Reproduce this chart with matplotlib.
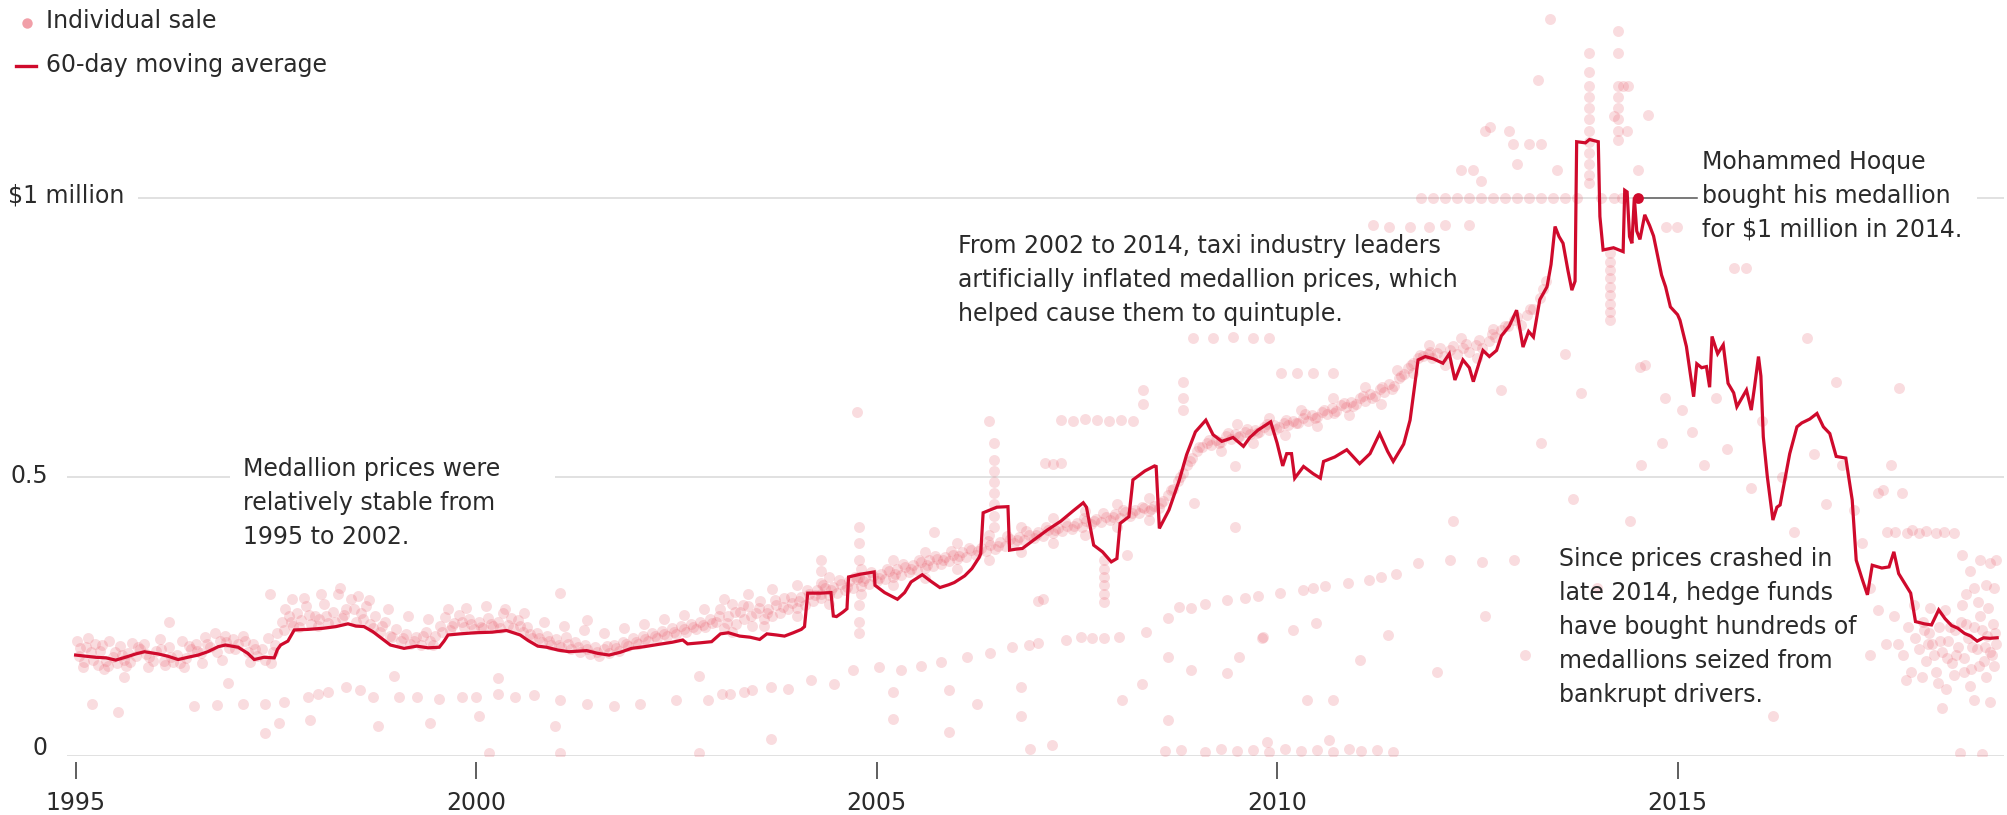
import matplotlib
matplotlib.use("Agg")
import matplotlib.pyplot as plt
from matplotlib.lines import Line2D

# ------------------- DATA ($ millions) -------------------
# 60-day moving average of medallion sale prices
avg_years = [
    1995.00, 1995.12, 1995.25, 1995.38, 1995.50, 1995.62, 1995.75, 1995.86, 1996.03, 1996.15,
    1996.28, 1996.40, 1996.53, 1996.65, 1996.78, 1996.87, 1997.03, 1997.15, 1997.23, 1997.35,
    1997.48, 1997.52, 1997.56, 1997.65, 1997.73, 1997.90, 1998.09, 1998.25, 1998.40, 1998.50,
    1998.60, 1998.71, 1998.82, 1998.93, 1999.10, 1999.26, 1999.40, 1999.54, 1999.60, 1999.65,
    1999.80, 1999.99, 2000.20, 2000.38, 2000.55, 2000.65, 2000.77, 2000.88, 2001.02, 2001.16,
    2001.38, 2001.52, 2001.66, 2001.80, 2001.94, 2002.10, 2002.27, 2002.45, 2002.58, 2002.64,
    2002.80, 2002.94, 2003.05, 2003.15, 2003.29, 2003.42, 2003.54, 2003.63, 2003.75, 2003.85,
    2003.96, 2004.06, 2004.10, 2004.14, 2004.30, 2004.43, 2004.46, 2004.50, 2004.58, 2004.63,
    2004.65, 2004.80, 2004.97, 2004.98, 2005.10, 2005.26, 2005.35, 2005.43, 2005.57, 2005.68,
    2005.79, 2005.90, 2005.97, 2006.10, 2006.19, 2006.28, 2006.30, 2006.33, 2006.50, 2006.64,
    2006.66, 2006.75, 2006.82, 2006.95, 2007.13, 2007.30, 2007.45, 2007.58, 2007.62, 2007.71,
    2007.82, 2007.93, 2008.00, 2008.04, 2008.15, 2008.20, 2008.35, 2008.47, 2008.49, 2008.53,
    2008.65, 2008.78, 2008.87, 2008.98, 2009.11, 2009.20, 2009.31, 2009.45, 2009.58, 2009.66,
    2009.76, 2009.92, 2010.00, 2010.07, 2010.12, 2010.18, 2010.22, 2010.33, 2010.45, 2010.54,
    2010.58, 2010.72, 2010.87, 2011.03, 2011.16, 2011.28, 2011.38, 2011.45, 2011.58, 2011.66,
    2011.76, 2011.85, 2011.95, 2012.07, 2012.15, 2012.22, 2012.32, 2012.40, 2012.45, 2012.57,
    2012.65, 2012.74, 2012.80, 2012.90, 2012.99, 2013.07, 2013.14, 2013.20, 2013.28, 2013.37,
    2013.42, 2013.47, 2013.52, 2013.57, 2013.63, 2013.68, 2013.72, 2013.74, 2013.85, 2013.90,
    2014.01, 2014.03, 2014.07, 2014.20, 2014.32, 2014.34, 2014.37, 2014.40, 2014.43, 2014.46,
    2014.49, 2014.53, 2014.59, 2014.65, 2014.70, 2014.80, 2014.85, 2014.91, 2015.00, 2015.03,
    2015.11, 2015.20, 2015.24, 2015.30, 2015.36, 2015.40, 2015.43, 2015.50, 2015.57, 2015.63,
    2015.70, 2015.74, 2015.80, 2015.86, 2015.92, 2015.96, 2016.01, 2016.04, 2016.07, 2016.12,
    2016.19, 2016.24, 2016.28, 2016.40, 2016.49, 2016.55, 2016.65, 2016.74, 2016.82, 2016.90,
    2016.98, 2017.10, 2017.18, 2017.23, 2017.30, 2017.37, 2017.43, 2017.55, 2017.64, 2017.70,
    2017.76, 2017.85, 2017.91, 2017.97, 2018.08, 2018.17, 2018.26, 2018.34, 2018.42, 2018.50,
    2018.58, 2018.66, 2018.74, 2018.82, 2018.90, 2018.99,
]
avg_values = [
    0.180, 0.178, 0.176, 0.175, 0.171, 0.176, 0.182, 0.186, 0.182, 0.178,
    0.172, 0.176, 0.180, 0.186, 0.195, 0.198, 0.194, 0.183, 0.172, 0.176,
    0.175, 0.190, 0.198, 0.205, 0.225, 0.226, 0.228, 0.231, 0.236, 0.232,
    0.231, 0.222, 0.210, 0.198, 0.192, 0.196, 0.193, 0.194, 0.205, 0.216,
    0.218, 0.220, 0.221, 0.224, 0.216, 0.206, 0.196, 0.194, 0.189, 0.186,
    0.188, 0.183, 0.180, 0.185, 0.192, 0.195, 0.199, 0.203, 0.207, 0.200,
    0.202, 0.204, 0.218, 0.220, 0.214, 0.212, 0.208, 0.218, 0.216, 0.214,
    0.220, 0.226, 0.231, 0.291, 0.291, 0.292, 0.250, 0.249, 0.257, 0.263,
    0.320, 0.325, 0.329, 0.305, 0.292, 0.280, 0.292, 0.311, 0.324, 0.312,
    0.301, 0.306, 0.310, 0.322, 0.335, 0.355, 0.362, 0.435, 0.445, 0.446,
    0.368, 0.370, 0.371, 0.385, 0.404, 0.420, 0.438, 0.453, 0.445, 0.377,
    0.365, 0.347, 0.353, 0.416, 0.428, 0.494, 0.510, 0.519, 0.518, 0.407,
    0.440, 0.494, 0.539, 0.580, 0.601, 0.575, 0.563, 0.570, 0.554, 0.570,
    0.583, 0.598, 0.560, 0.519, 0.541, 0.541, 0.497, 0.518, 0.505, 0.497,
    0.527, 0.535, 0.548, 0.523, 0.541, 0.577, 0.545, 0.527, 0.558, 0.601,
    0.709, 0.715, 0.711, 0.703, 0.720, 0.673, 0.709, 0.695, 0.670, 0.726,
    0.715, 0.726, 0.752, 0.770, 0.798, 0.732, 0.760, 0.750, 0.817, 0.840,
    0.880, 0.948, 0.930, 0.918, 0.870, 0.834, 0.850, 1.100, 1.098, 1.104,
    1.100, 0.966, 0.906, 0.910, 0.903, 1.013, 1.010, 0.930, 0.918, 1.000,
    0.940, 0.925, 0.969, 0.950, 0.931, 0.861, 0.840, 0.804, 0.790, 0.780,
    0.733, 0.643, 0.702, 0.695, 0.697, 0.660, 0.751, 0.720, 0.736, 0.667,
    0.650, 0.625, 0.640, 0.655, 0.619, 0.660, 0.715, 0.680, 0.571, 0.500,
    0.422, 0.445, 0.449, 0.541, 0.589, 0.596, 0.603, 0.613, 0.589, 0.577,
    0.536, 0.533, 0.458, 0.350, 0.318, 0.288, 0.341, 0.336, 0.338, 0.365,
    0.326, 0.305, 0.291, 0.240, 0.236, 0.234, 0.261, 0.245, 0.233, 0.228,
    0.219, 0.214, 0.205, 0.211, 0.210, 0.211,
]

# individual sales (year, price), grouped by where they sit on the chart
sales_early = [
    (1995.02, 0.205), (1995.06, 0.192), (1995.10, 0.168), (1995.15, 0.210), (1995.19, 0.185),
    (1995.24, 0.200), (1995.28, 0.163), (1995.33, 0.198), (1995.38, 0.170), (1995.42, 0.205),
    (1995.47, 0.176), (1995.52, 0.165), (1995.56, 0.196), (1995.61, 0.172), (1995.66, 0.184),
    (1995.71, 0.202), (1995.76, 0.178), (1995.81, 0.190), (1995.86, 0.199), (1995.92, 0.176),
    (1996.00, 0.188), (1996.05, 0.208), (1996.10, 0.170), (1996.16, 0.195), (1996.22, 0.168),
    (1996.27, 0.180), (1996.33, 0.205), (1996.38, 0.175), (1996.44, 0.190), (1996.50, 0.200),
    (1996.56, 0.183), (1996.62, 0.212), (1996.68, 0.195), (1996.74, 0.220), (1996.80, 0.205),
    (1996.86, 0.214), (1996.92, 0.192), (1996.97, 0.208), (1997.03, 0.199), (1997.09, 0.215),
    (1997.15, 0.186), (1997.21, 0.200), (1997.27, 0.178), (1997.33, 0.190), (1997.40, 0.210),
    (1997.46, 0.185), (1997.52, 0.220), (1997.58, 0.240), (1997.62, 0.262), (1997.66, 0.250),
    (1997.71, 0.232), (1997.76, 0.255), (1997.82, 0.242), (1997.88, 0.268), (1997.94, 0.236),
    (1997.99, 0.250), (1998.04, 0.245), (1998.10, 0.272), (1998.15, 0.238), (1998.21, 0.258),
    (1998.27, 0.290), (1998.32, 0.246), (1998.38, 0.262), (1998.44, 0.280), (1998.50, 0.240),
    (1998.56, 0.255), (1998.62, 0.268), (1998.68, 0.235), (1998.74, 0.250), (1998.80, 0.222),
    (1998.86, 0.240), (1998.92, 0.215), (1999.00, 0.226), (1999.06, 0.205), (1999.12, 0.218),
    (1999.18, 0.200), (1999.25, 0.212), (1999.31, 0.198), (1999.37, 0.222), (1999.43, 0.206),
    (1999.49, 0.215), (1999.55, 0.232), (1999.61, 0.248), (1999.67, 0.225), (1999.73, 0.238),
    (1999.79, 0.252), (1999.85, 0.230), (1999.91, 0.244), (1999.97, 0.226), (2000.03, 0.240),
    (2000.09, 0.228), (2000.15, 0.246), (2000.21, 0.232), (2000.27, 0.240), (2000.33, 0.256),
    (2000.40, 0.234), (2000.46, 0.228), (2000.52, 0.242), (2000.58, 0.222), (2000.64, 0.230),
    (2000.70, 0.210), (2000.76, 0.220), (2000.82, 0.204), (2000.88, 0.214), (2000.94, 0.198),
    (2001.00, 0.208), (2001.06, 0.195), (2001.12, 0.212), (2001.18, 0.190), (2001.24, 0.204),
    (2001.30, 0.186), (2001.36, 0.198), (2001.42, 0.182), (2001.48, 0.194), (2001.54, 0.178),
    (2001.60, 0.190), (2001.66, 0.184), (2001.72, 0.198), (2001.78, 0.188), (2001.84, 0.204),
    (2001.90, 0.196), (2001.96, 0.210), (2002.02, 0.200), (2002.08, 0.214), (2002.14, 0.206),
    (2002.20, 0.220), (2002.26, 0.210), (2002.32, 0.224), (2002.38, 0.215), (2002.44, 0.228),
    (2002.50, 0.218), (2002.56, 0.232), (2002.62, 0.222), (2002.68, 0.236), (2002.74, 0.226),
    (2002.80, 0.240), (2002.86, 0.230), (2002.92, 0.244),
]

sales_early_extra = [
    (1995.04, 0.178), (1995.13, 0.195), (1995.22, 0.172), (1995.31, 0.188), (1995.40, 0.160),
    (1995.49, 0.186), (1995.58, 0.180), (1995.68, 0.168), (1995.78, 0.195), (1995.88, 0.182),
    (1995.97, 0.170), (1996.07, 0.190), (1996.19, 0.176), (1996.30, 0.165), (1996.41, 0.196),
    (1996.52, 0.188), (1996.64, 0.200), (1996.76, 0.186), (1996.88, 0.204), (1996.99, 0.190),
    (1997.12, 0.205), (1997.24, 0.190), (1997.37, 0.172), (1997.49, 0.198), (1997.60, 0.225),
    (1997.69, 0.240), (1997.79, 0.230), (1997.91, 0.252), (1998.02, 0.232), (1998.13, 0.250),
    (1998.24, 0.240), (1998.35, 0.252), (1998.47, 0.262), (1998.59, 0.244), (1998.71, 0.228),
    (1998.83, 0.232), (1998.95, 0.212), (1999.09, 0.210), (1999.22, 0.205), (1999.34, 0.214),
    (1999.46, 0.198), (1999.58, 0.222), (1999.70, 0.232), (1999.82, 0.240), (1999.94, 0.236),
    (2000.06, 0.230), (2000.18, 0.236), (2000.30, 0.228), (2000.43, 0.246), (2000.55, 0.232),
    (2000.67, 0.218), (2000.79, 0.210), (2000.91, 0.206), (2001.03, 0.198), (2001.15, 0.200),
    (2001.27, 0.194), (2001.39, 0.190), (2001.51, 0.186), (2001.63, 0.196), (2001.75, 0.192),
    (2001.87, 0.200), (2001.99, 0.204), (2002.11, 0.208), (2002.23, 0.214), (2002.35, 0.218),
    (2002.47, 0.222), (2002.59, 0.226), (2002.71, 0.230), (2002.83, 0.234), (2002.95, 0.238),
]

sales_rising = [
    (2003.00, 0.240), (2003.05, 0.262), (2003.10, 0.228), (2003.15, 0.250), (2003.20, 0.272),
    (2003.25, 0.236), (2003.30, 0.258), (2003.35, 0.245), (2003.40, 0.268), (2003.45, 0.232),
    (2003.50, 0.255), (2003.55, 0.276), (2003.60, 0.244), (2003.65, 0.262), (2003.70, 0.250),
    (2003.75, 0.270), (2003.80, 0.256), (2003.85, 0.282), (2003.90, 0.262), (2003.95, 0.274),
    (2004.00, 0.265), (2004.05, 0.284), (2004.10, 0.270), (2004.15, 0.290), (2004.20, 0.276),
    (2004.25, 0.296), (2004.30, 0.282), (2004.35, 0.300), (2004.40, 0.288), (2004.45, 0.302),
    (2004.50, 0.292), (2004.55, 0.308), (2004.60, 0.296), (2004.65, 0.312), (2004.70, 0.300),
    (2004.75, 0.316), (2004.80, 0.304), (2004.85, 0.318), (2004.90, 0.308), (2004.95, 0.322),
    (2005.00, 0.312), (2005.05, 0.326), (2005.10, 0.316), (2005.15, 0.330), (2005.20, 0.320),
    (2005.25, 0.334), (2005.30, 0.324), (2005.35, 0.338), (2005.40, 0.328), (2005.45, 0.342),
    (2005.50, 0.332), (2005.55, 0.346), (2005.60, 0.336), (2005.65, 0.350), (2005.70, 0.340),
    (2005.75, 0.352), (2005.80, 0.344), (2005.85, 0.356), (2005.90, 0.348), (2005.95, 0.360),
    (2006.00, 0.352), (2006.06, 0.364), (2006.12, 0.356), (2006.18, 0.368), (2006.24, 0.360),
    (2006.30, 0.372), (2006.36, 0.366), (2006.42, 0.378), (2006.48, 0.370), (2006.54, 0.382),
    (2006.60, 0.376), (2006.66, 0.388), (2006.72, 0.380), (2006.78, 0.392), (2006.84, 0.386),
    (2006.90, 0.396), (2006.96, 0.390), (2007.02, 0.400), (2007.08, 0.394), (2007.14, 0.404),
    (2007.20, 0.398), (2007.26, 0.408), (2007.32, 0.402), (2007.38, 0.412), (2007.44, 0.406),
    (2007.50, 0.416), (2007.56, 0.410), (2007.62, 0.420), (2007.68, 0.414), (2007.74, 0.424),
    (2007.80, 0.418), (2007.86, 0.428), (2007.92, 0.422), (2007.98, 0.432), (2008.04, 0.426),
    (2008.10, 0.436), (2008.16, 0.430), (2008.22, 0.440), (2008.28, 0.434), (2008.34, 0.444),
    (2008.40, 0.438), (2008.46, 0.448), (2008.52, 0.444), (2008.58, 0.456), (2008.64, 0.466),
    (2008.70, 0.478), (2008.76, 0.492), (2008.82, 0.506), (2008.88, 0.520), (2008.94, 0.534),
    (2009.00, 0.546), (2009.06, 0.552), (2009.12, 0.560), (2009.18, 0.556), (2009.24, 0.566),
    (2009.30, 0.562), (2009.36, 0.572), (2009.42, 0.568), (2009.48, 0.576), (2009.54, 0.572),
    (2009.60, 0.580), (2009.66, 0.576), (2009.72, 0.584), (2009.78, 0.580), (2009.84, 0.588),
    (2009.90, 0.584), (2009.96, 0.592), (2010.02, 0.588), (2010.08, 0.596), (2010.14, 0.592),
    (2010.20, 0.600), (2010.26, 0.596), (2010.32, 0.604), (2010.38, 0.600), (2010.44, 0.610),
    (2010.50, 0.606), (2010.56, 0.616), (2010.62, 0.612), (2010.68, 0.622), (2010.74, 0.618),
    (2010.80, 0.628), (2010.86, 0.624), (2010.92, 0.634), (2010.98, 0.630), (2011.04, 0.640),
    (2011.10, 0.636), (2011.16, 0.648), (2011.22, 0.644), (2011.28, 0.656), (2011.34, 0.652),
    (2011.40, 0.666), (2011.46, 0.662), (2011.52, 0.676), (2011.58, 0.684), (2011.64, 0.694),
    (2011.70, 0.704), (2011.76, 0.712), (2011.82, 0.716), (2011.88, 0.720), (2011.94, 0.712),
    (2012.00, 0.722), (2012.08, 0.716), (2012.16, 0.726), (2012.24, 0.720), (2012.32, 0.730),
    (2012.40, 0.724), (2012.48, 0.736), (2012.56, 0.730), (2012.64, 0.742), (2012.72, 0.750),
    (2012.80, 0.762), (2012.88, 0.770), (2012.96, 0.780), (2013.04, 0.772), (2013.12, 0.790),
    (2013.20, 0.800), (2013.28, 0.820), (2013.36, 0.850),
]

sales_rising_extra = [
    (2003.03, 0.250), (2003.13, 0.238), (2003.23, 0.258), (2003.33, 0.270), (2003.43, 0.250),
    (2003.53, 0.264), (2003.63, 0.256), (2003.73, 0.278), (2003.83, 0.266), (2003.93, 0.284),
    (2004.03, 0.276), (2004.13, 0.296), (2004.23, 0.288), (2004.33, 0.306), (2004.43, 0.296),
    (2004.53, 0.314), (2004.63, 0.302), (2004.73, 0.320), (2004.83, 0.312), (2004.93, 0.328),
    (2005.03, 0.318), (2005.13, 0.334), (2005.23, 0.326), (2005.33, 0.344), (2005.43, 0.334),
    (2005.53, 0.350), (2005.63, 0.342), (2005.73, 0.358), (2005.83, 0.350), (2005.93, 0.366),
    (2006.03, 0.358), (2006.15, 0.372), (2006.27, 0.366), (2006.39, 0.384), (2006.51, 0.376),
    (2006.63, 0.394), (2006.75, 0.386), (2006.87, 0.402), (2006.99, 0.396), (2007.11, 0.410),
    (2007.23, 0.404), (2007.35, 0.418), (2007.47, 0.412), (2007.59, 0.426), (2007.71, 0.420),
    (2007.83, 0.434), (2007.95, 0.428), (2008.07, 0.440), (2008.19, 0.434), (2008.31, 0.446),
    (2008.43, 0.442), (2008.55, 0.452), (2008.67, 0.476), (2008.79, 0.500), (2008.91, 0.528),
    (2009.03, 0.552), (2009.15, 0.566), (2009.27, 0.560), (2009.39, 0.578), (2009.51, 0.570),
    (2009.63, 0.586), (2009.75, 0.578), (2009.87, 0.594), (2009.99, 0.586), (2010.11, 0.602),
    (2010.23, 0.596), (2010.35, 0.612), (2010.47, 0.604), (2010.59, 0.620), (2010.71, 0.614),
    (2010.83, 0.632), (2010.95, 0.626), (2011.07, 0.644), (2011.19, 0.640), (2011.31, 0.660),
    (2011.43, 0.656), (2011.55, 0.680), (2011.67, 0.700), (2011.79, 0.718), (2011.91, 0.724),
    (2012.04, 0.730), (2012.20, 0.734), (2012.36, 0.738), (2012.52, 0.744), (2012.68, 0.756),
    (2012.84, 0.770), (2013.00, 0.786), (2013.16, 0.800), (2013.32, 0.836),
]

sales_band_edges = [
    (1995.09, 0.158), (1995.35, 0.155), (1995.63, 0.160), (1995.90, 0.158), (1996.12, 0.162),
    (1996.35, 0.158), (1996.58, 0.166), (1996.83, 0.172), (1997.18, 0.168), (1997.44, 0.165),
    (1997.70, 0.280), (1997.85, 0.282), (1998.06, 0.290), (1998.30, 0.300), (1998.52, 0.285),
    (1998.66, 0.278), (1998.90, 0.262), (1999.15, 0.250), (1999.40, 0.245), (1999.65, 0.262),
    (1999.88, 0.265), (2000.12, 0.268), (2000.36, 0.262), (2000.60, 0.255), (2000.85, 0.240),
    (2001.10, 0.232), (2001.35, 0.225), (2001.60, 0.220), (2001.85, 0.228), (2002.10, 0.236),
    (2002.35, 0.244), (2002.60, 0.252), (2002.85, 0.262),
    (2003.10, 0.280), (2003.40, 0.290), (2003.70, 0.298), (2004.00, 0.305), (2004.40, 0.320),
    (2004.80, 0.335), (2005.20, 0.350), (2005.60, 0.365), (2006.00, 0.380), (2006.40, 0.395),
    (2006.80, 0.410), (2007.20, 0.425), (2007.60, 0.438), (2008.00, 0.450), (2008.40, 0.462),
    (2003.20, 0.222), (2003.60, 0.232), (2004.00, 0.250), (2004.40, 0.272), (2004.80, 0.290),
    (2005.20, 0.305), (2005.60, 0.318), (2006.00, 0.335), (2006.40, 0.350), (2006.80, 0.365),
    (2007.20, 0.380), (2007.60, 0.395), (2008.00, 0.410), (2008.40, 0.422),
    (2009.30, 0.545), (2009.70, 0.560), (2010.10, 0.575), (2010.50, 0.590), (2010.90, 0.610),
    (2011.30, 0.630), (2011.70, 0.685), (2012.10, 0.700), (2012.50, 0.712),
    (2009.50, 0.595), (2009.90, 0.605), (2010.30, 0.620), (2010.70, 0.640), (2011.10, 0.660),
    (2011.50, 0.690), (2011.90, 0.735), (2012.30, 0.748), (2012.70, 0.765),
]

sales_lower = [
    (1995.20, 0.093), (1995.53, 0.078), (1996.48, 0.088), (1996.76, 0.091), (1997.09, 0.093),
    (1997.37, 0.093), (1997.60, 0.096), (1997.90, 0.105), (1998.15, 0.114), (1998.37, 0.123),
    (1998.71, 0.105), (1999.04, 0.105), (1999.26, 0.105), (1999.54, 0.102), (1999.82, 0.105),
    (2000.27, 0.111), (2000.49, 0.105), (2000.72, 0.108), (2001.05, 0.099), (2001.38, 0.093),
    (2001.72, 0.088), (2002.05, 0.093), (2002.50, 0.099), (2002.89, 0.099), (2003.17, 0.111),
    (2003.45, 0.117), (2003.07, 0.111), (2003.35, 0.114), (2003.68, 0.123), (2003.90, 0.120),
    (2004.18, 0.135), (2004.47, 0.129), (2004.70, 0.153), (2005.03, 0.159), (2005.30, 0.153),
    (2005.80, 0.168), (2006.13, 0.177), (2006.41, 0.183), (2006.69, 0.195), (2007.02, 0.201),
    (2007.36, 0.207), (2007.69, 0.210), (2008.03, 0.213), (2008.36, 0.222), (2008.64, 0.246),
    (2008.92, 0.264), (2009.37, 0.279), (2009.76, 0.285), (2010.04, 0.291), (2010.32, 0.297),
    (2010.60, 0.303), (2010.88, 0.309), (2011.15, 0.314), (2011.49, 0.326), (2011.76, 0.345),
    (2012.16, 0.351), (2012.56, 0.347), (2012.96, 0.351), (1998.02, 0.110), (1998.55, 0.118),
    (2000.00, 0.104), (2005.55, 0.160), (2006.90, 0.198), (2007.55, 0.212), (2009.10, 0.272),
    (2009.60, 0.282), (2010.45, 0.300), (2011.30, 0.320),
]

sales_high = [
    (2011.80, 1.000), (2011.95, 1.000), (2012.10, 1.000), (2012.25, 1.000), (2012.40, 1.000),
    (2012.55, 1.000), (2012.70, 1.000), (2012.85, 1.000), (2013.00, 1.000), (2013.15, 1.000),
    (2013.30, 1.000), (2013.45, 1.000), (2013.60, 1.000), (2013.75, 1.000), (2014.05, 1.000),
    (2014.20, 1.000), (2014.30, 1.000),
    (2013.90, 1.259), (2013.90, 1.225), (2013.90, 1.200), (2013.90, 1.180), (2013.90, 1.160),
    (2013.90, 1.140), (2013.90, 1.120), (2013.90, 1.100), (2013.90, 1.080), (2013.90, 1.060),
    (2013.90, 1.040), (2013.90, 1.026),
    (2014.25, 1.298), (2014.25, 1.259), (2014.25, 1.200), (2014.25, 1.180), (2014.25, 1.160),
    (2014.25, 1.140), (2014.25, 1.120), (2014.25, 1.103), (2014.32, 1.200), (2014.38, 1.200),
    (2014.16, 0.900), (2014.16, 0.885), (2014.16, 0.870), (2014.16, 0.855), (2014.16, 0.840),
    (2014.16, 0.825), (2014.16, 0.810), (2014.16, 0.795), (2014.16, 0.780),
    (2013.41, 1.320), (2013.26, 1.210), (2012.45, 1.050), (2012.55, 1.030), (2012.30, 1.050),
    (2012.60, 1.120), (2012.90, 1.120), (2012.95, 1.096), (2013.15, 1.096), (2013.30, 1.096),
    (2012.66, 1.127), (2012.99, 1.060), (2013.50, 1.049), (2014.37, 1.120), (2014.50, 1.050),
    (2014.20, 1.147), (2014.63, 1.148), (2014.86, 0.948), (2014.99, 0.948),
    (2011.20, 0.950), (2011.40, 0.948), (2011.66, 0.948), (2011.90, 0.948), (2012.10, 0.950),
    (2012.40, 0.950),
    (2008.95, 0.748), (2009.20, 0.748), (2009.45, 0.750), (2009.70, 0.748), (2009.90, 0.748),
    (2010.05, 0.685), (2010.25, 0.685), (2010.45, 0.685), (2010.70, 0.685),
    (2014.59, 0.700), (2014.84, 0.640), (2014.54, 0.520), (2013.80, 0.650), (2012.80, 0.655),
    (2013.60, 0.720), (2014.53, 0.697),
]

sales_mid = [
    (2004.76, 0.616), (2007.10, 0.524), (2007.20, 0.522), (2007.30, 0.524), (2007.30, 0.601),
    (2007.45, 0.600), (2007.60, 0.603), (2007.75, 0.601), (2007.90, 0.600), (2008.05, 0.602),
    (2008.20, 0.600), (2008.33, 0.655), (2008.33, 0.630), (2008.82, 0.670), (2008.82, 0.640),
    (2008.82, 0.620),
    (2006.46, 0.560), (2006.46, 0.530), (2006.46, 0.510), (2006.46, 0.490), (2006.46, 0.470),
    (2006.46, 0.450), (2006.46, 0.430), (2006.46, 0.410), (2006.40, 0.600),
    (2004.30, 0.350), (2004.30, 0.330), (2004.30, 0.310), (2004.30, 0.290),
    (2004.78, 0.410), (2004.78, 0.380), (2004.78, 0.350), (2004.78, 0.320), (2004.78, 0.270),
    (2004.78, 0.240), (2004.78, 0.220),
    (2007.84, 0.350), (2007.84, 0.335), (2007.84, 0.320), (2007.84, 0.305), (2007.84, 0.290),
    (2007.84, 0.275), (2007.84, 0.210),
    (2005.72, 0.400), (2007.08, 0.280), (2009.47, 0.410), (2009.47, 0.518), (2008.96, 0.452),
    (2008.13, 0.360), (2008.77, 0.267), (2009.83, 0.213),
]

sales_stray = [
    (1997.37, 0.040), (1997.54, 0.058), (1997.93, 0.064), (1998.77, 0.052), (1999.43, 0.058),
    (2000.04, 0.070), (2000.16, 0.004), (2000.99, 0.052), (2001.05, 0.004), (2002.78, 0.004),
    (1996.17, 0.240), (1997.43, 0.290), (1998.98, 0.142), (2000.27, 0.139), (2002.78, 0.142),
    (2001.05, 0.291), (2001.38, 0.243), (1995.60, 0.140), (1996.90, 0.130),
    (2005.20, 0.114), (2005.20, 0.066), (2005.90, 0.117), (2006.25, 0.093), (2006.80, 0.070),
    (2006.80, 0.123), (2007.02, 0.276), (2008.06, 0.099), (2008.31, 0.129), (2008.64, 0.177),
    (2008.92, 0.153), (2009.37, 0.147), (2009.53, 0.177), (2009.81, 0.210), (2010.20, 0.225),
    (2010.48, 0.237), (2010.37, 0.099), (2010.70, 0.099), (2011.04, 0.171), (2011.38, 0.216),
    (2010.65, 0.027), (2009.87, 0.024), (2003.68, 0.030), (2005.90, 0.042), (2007.19, 0.018),
    (2006.91, 0.012), (2008.64, 0.064),
    (2008.60, 0.008), (2008.80, 0.010), (2009.10, 0.006), (2009.30, 0.012), (2009.50, 0.008),
    (2009.70, 0.010), (2009.90, 0.006), (2010.10, 0.012), (2010.30, 0.008), (2010.50, 0.010),
    (2010.70, 0.006), (2010.90, 0.012), (2011.05, 0.008), (2011.25, 0.010), (2011.45, 0.006),
    (2012.20, 0.420), (2012.60, 0.250), (2013.10, 0.180), (2013.70, 0.460), (2014.00, 0.300),
    (2014.40, 0.420), (2014.80, 0.560), (2013.30, 0.560), (2012.00, 0.150),
]

sales_late = [
    (2015.05, 0.620), (2015.18, 0.580), (2015.33, 0.520), (2015.48, 0.640), (2015.62, 0.550),
    (2015.70, 0.874), (2015.86, 0.874), (2015.92, 0.480), (2016.05, 0.600), (2016.19, 0.070),
    (2016.30, 0.500), (2016.45, 0.400), (2016.61, 0.748), (2016.70, 0.540), (2016.85, 0.450),
    (2016.98, 0.670), (2017.05, 0.520), (2017.20, 0.440), (2017.30, 0.380), (2017.40, 0.300),
    (2017.50, 0.470), (2017.57, 0.475), (2017.62, 0.400), (2017.66, 0.520), (2017.72, 0.400),
    (2017.77, 0.659), (2017.80, 0.470), (2017.86, 0.399), (2017.93, 0.405), (2018.02, 0.399),
    (2018.10, 0.402), (2018.22, 0.398), (2018.32, 0.400), (2018.45, 0.399), (2018.52, 0.004),
    (2018.80, 0.002), (2018.55, 0.360), (2018.65, 0.330), (2018.78, 0.350), (2018.90, 0.345),
    (2018.98, 0.350), (2018.70, 0.300), (2018.85, 0.305), (2018.95, 0.300), (2018.60, 0.290),
    (2017.70, 0.250), (2017.75, 0.200), (2017.82, 0.180), (2017.88, 0.230), (2017.92, 0.150),
    (2017.97, 0.210), (2018.02, 0.190), (2018.06, 0.240), (2018.10, 0.170), (2018.14, 0.220),
    (2018.18, 0.200), (2018.22, 0.150), (2018.26, 0.230), (2018.30, 0.185), (2018.34, 0.260),
    (2018.38, 0.205), (2018.42, 0.165), (2018.46, 0.225), (2018.50, 0.195), (2018.54, 0.240),
    (2018.58, 0.175), (2018.62, 0.210), (2018.66, 0.155), (2018.70, 0.230), (2018.74, 0.190),
    (2018.78, 0.250), (2018.82, 0.170), (2018.86, 0.215), (2018.90, 0.185), (2018.94, 0.235),
    (2018.98, 0.200), (2018.05, 0.140), (2018.25, 0.130), (2018.45, 0.145), (2018.65, 0.125),
    (2018.85, 0.140), (2018.95, 0.160), (2018.55, 0.270), (2018.75, 0.275), (2018.88, 0.265),
    (2018.35, 0.120), (2018.15, 0.265), (2017.95, 0.270), (2018.60, 0.235), (2018.80, 0.225),
    (2018.92, 0.180), (2018.40, 0.230), (2018.12, 0.200), (2017.85, 0.135), (2018.70, 0.100),
    (2018.90, 0.095), (2018.30, 0.085), (2017.60, 0.200), (2017.50, 0.260), (2017.40, 0.180),
    (2018.20, 0.180), (2018.48, 0.180), (2018.68, 0.195), (2018.96, 0.220), (2018.08, 0.225),
    (2018.28, 0.205), (2018.58, 0.150), (2018.76, 0.160), (2018.84, 0.195), (2018.36, 0.175),
]

hoque_sale = (2014.51, 1.0)

year_ticks = [1995, 2000, 2005, 2010, 2015]

# ------------------- LAYOUT -------------------
W, H = 2008, 815
LINE_RED = "#cf0a2c"
DOT_PINK = "#e8606e"
GRID = "#dedede"
TEXT = "#2a2a2a"
FS = 17

fig = plt.figure(figsize=(W / 100, H / 100), dpi=100)
ax = fig.add_axes([0, 59.5 / H, 1, 755.5 / H])
ax.set_xlim(1994.056, 2019.125)
ax.set_ylim(0, 1.354)
for s in ["top", "left", "right", "bottom"]:
    ax.spines[s].set_visible(False)
ax.spines["bottom"].set_position(("outward", 5))
ax.set_yticks([])
ax.set_xticks(year_ticks)
ax.set_xticklabels([str(y) for y in year_ticks])
ax.tick_params(axis="x", length=12.5, width=1.1, color="#333333",
               labelsize=FS, labelcolor=TEXT, pad=8)


def px(x, y):
    return x / W, 1 - y / H


# gridlines, broken where annotations sit
grid_segments = [
    (0.0, 1994.89, 2019.08),
    (0.5, 1994.89, 1996.93),
    (0.5, 2000.99, 2019.08),
    (1.0, 1995.78, 2014.51),
    (1.0, 2018.74, 2019.08),
]
for yv, x0, x1 in grid_segments:
    ax.plot([x0, x1], [yv, yv], color=GRID, lw=1.3, zorder=0, solid_capstyle="butt")

# individual sales
groups = [sales_early, sales_early_extra, sales_band_edges, sales_rising, sales_rising_extra,
          sales_lower, sales_high, sales_mid, sales_stray, sales_late]
for group in groups:
    xs = [p[0] for p in group]
    ys = [p[1] for p in group]
    ax.scatter(xs, ys, s=62, color=DOT_PINK, alpha=0.22, linewidths=0, zorder=1)

# moving average
ax.plot(avg_years, avg_values, color=LINE_RED, lw=2.3, zorder=3, solid_joinstyle="miter")

# Hoque point + leader
ax.plot([hoque_sale[0], 2015.24], [hoque_sale[1], hoque_sale[1]], color="#555555", lw=1.1, zorder=2)
ax.scatter([hoque_sale[0]], [hoque_sale[1]], s=60, color=LINE_RED, zorder=4, linewidths=0)

# y labels
fig.text(*px(8, 203), "$1 million", fontsize=FS, color=TEXT, ha="left", va="baseline")
fig.text(*px(48, 483), "0.5", fontsize=FS, color=TEXT, ha="right", va="baseline")
fig.text(*px(48, 755), "0", fontsize=FS, color=TEXT, ha="right", va="baseline")

# legend
fig.add_artist(Line2D([26.8 / W], [1 - 22.7 / H], marker="o", markersize=7.5, color=DOT_PINK,
                      alpha=0.6, markeredgewidth=0, transform=fig.transFigure))
fig.add_artist(Line2D([15.6 / W, 35.7 / W], [1 - 66 / H, 1 - 66 / H], color=LINE_RED, lw=2.4,
                      transform=fig.transFigure))
fig.text(*px(46, 28), "Individual sale", fontsize=FS, color=TEXT, ha="left", va="baseline")
fig.text(*px(46, 72), "60-day moving average", fontsize=FS, color=TEXT, ha="left", va="baseline")

# annotations
notes = [
    (243, 476, ["Medallion prices were", "relatively stable from", "1995 to 2002."]),
    (958, 253, ["From 2002 to 2014, taxi industry leaders",
                "artificially inflated medallion prices, which",
                "helped cause them to quintuple."]),
    (1702, 169, ["Mohammed Hoque", "bought his medallion", "for $1 million in 2014."]),
    (1559, 566, ["Since prices crashed in", "late 2014, hedge funds",
                 "have bought hundreds of", "medallions seized from", "bankrupt drivers."]),
]
for x0, y0, lines in notes:
    for i, line in enumerate(lines):
        fig.text(*px(x0, y0 + i * 34), line, fontsize=FS, color=TEXT, ha="left", va="baseline")

fig.savefig("out.png", dpi=100)
